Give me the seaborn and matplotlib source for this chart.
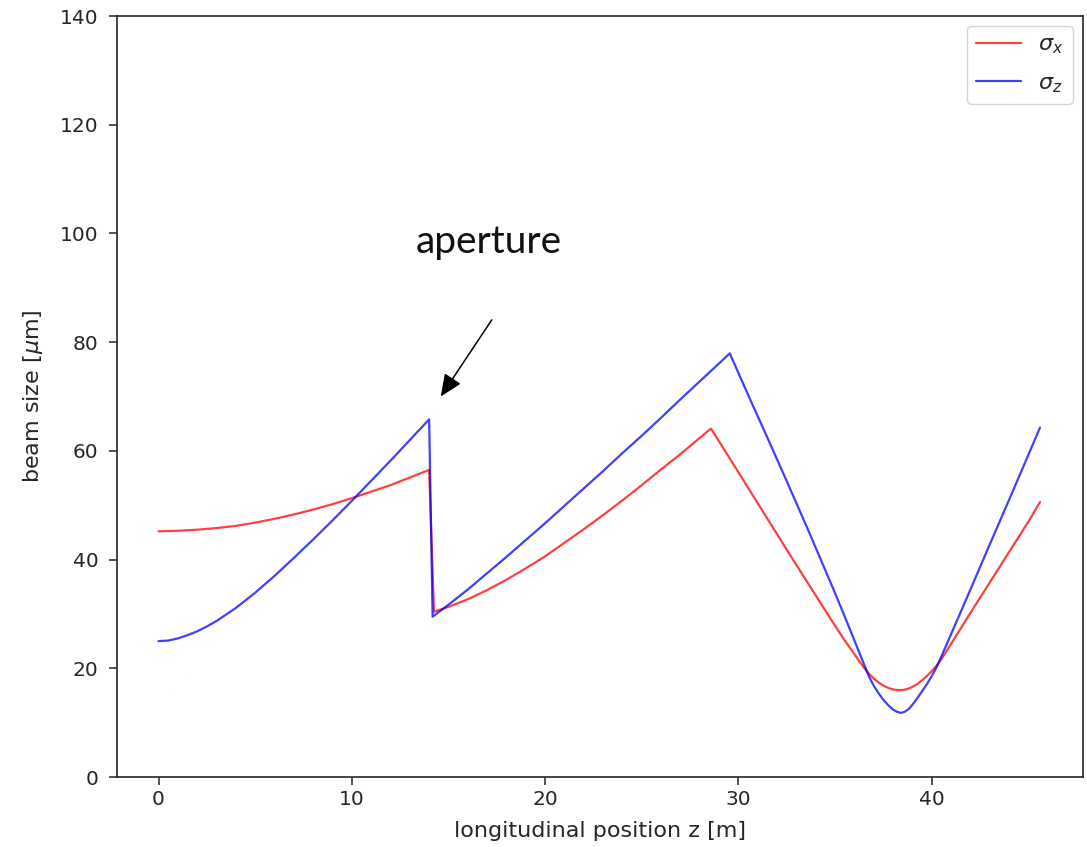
import pandas as pd
import matplotlib
matplotlib.use("Agg")
import matplotlib.pyplot as plt
import seaborn as sns

# beam envelope: z [m], size [um]
red_z = [0, 1, 2, 3, 4, 5, 6, 7, 8, 9, 10, 11, 12, 13, 14.0,
         14.25, 15, 16, 17, 18, 19, 20, 21, 22, 23, 24, 25, 26, 27, 28, 28.58,
         29.5, 30.5, 31.5, 32.5, 33.5, 34.5, 35.0, 35.5, 36.0, 36.25, 36.5, 36.75,
         37.0, 37.25, 37.5, 37.75, 38.0, 38.25, 38.5, 38.75, 39.0, 39.25, 39.5,
         39.75, 40.0, 40.25, 40.5, 41.0, 42.0, 43.0, 44.0, 45.0, 45.6]
sigma_x = [45.2, 45.3, 45.5, 45.8, 46.2, 46.8, 47.5, 48.3, 49.2, 50.2, 51.3, 52.5, 53.7, 55.1, 56.5,
           30.4, 31.3, 32.7, 34.4, 36.3, 38.4, 40.6, 43.1, 45.6, 48.2, 50.9, 53.7, 56.6, 59.4, 62.4, 64.1,
           58.9, 53.2, 47.5, 41.8, 36.2, 30.6, 27.8, 25.1, 22.6, 21.3, 20.1, 19.0,
           18.1, 17.4, 16.8, 16.4, 16.1, 16.0, 16.0, 16.2, 16.6, 17.1, 17.8,
           18.6, 19.5, 20.5, 21.7, 24.5, 30.2, 35.8, 41.4, 47.0, 50.6]

blue_z = [0, 0.5, 1, 1.5, 2, 2.5, 3, 4, 5, 6, 7, 8, 9, 10, 11, 12, 13, 14.0,
          14.18, 15, 16, 17, 18, 19, 20, 21, 22, 23, 24, 25, 26, 27, 28, 29, 29.55,
          30.5, 31.5, 32.5, 33.5, 34.5, 35.0, 35.5, 36.0, 36.5, 36.75, 37.0, 37.25,
          37.5, 37.75, 38.0, 38.2, 38.4, 38.6, 38.8, 39.0, 39.25, 39.5, 39.75,
          40.0, 40.25, 40.5, 41.0, 42.0, 43.0, 44.0, 45.0, 45.6]
sigma_z = [25.0, 25.1, 25.5, 26.1, 26.8, 27.7, 28.7, 31.1, 33.9, 37.0, 40.3, 43.7, 47.2, 50.8,
           54.5, 58.2, 62.0, 65.8,
           29.5, 31.7, 34.5, 37.5, 40.5, 43.6, 46.7, 49.9, 53.1, 56.3, 59.6, 62.8, 66.1, 69.5, 72.8, 76.1, 77.95,
           70.3, 62.4, 54.4, 46.3, 38.0, 33.8, 29.5, 25.1, 20.7, 18.5, 16.8, 15.4,
           14.2, 13.2, 12.4, 12.0, 11.8, 12.0, 12.5, 13.3, 14.5, 15.8, 17.1,
           18.6, 20.2, 22.2, 26.3, 34.5, 42.8, 51.0, 59.3, 64.3]

df_x = pd.DataFrame({"z": red_z, "size": sigma_x})
df_z = pd.DataFrame({"z": blue_z, "size": sigma_z})

sns.set_style("ticks")
plt.rcParams["font.family"] = ["DejaVu Sans"]

fig = plt.figure(figsize=(10.87, 8.47), dpi=100)
ax = fig.add_axes([0.1074, 0.0826, 0.8887, 0.8985])

sns.lineplot(data=df_x, x="z", y="size", color="red", alpha=0.75, lw=1.6,
             label=r"$\sigma_x$", ax=ax)
sns.lineplot(data=df_z, x="z", y="size", color="blue", alpha=0.75, lw=1.6,
             label=r"$\sigma_z$", ax=ax)

ax.set_xlim(-2.16, 47.81)
ax.set_ylim(0, 140)
ax.set_xticks([0, 10, 20, 30, 40])
ax.set_yticks(range(0, 141, 20))
for s in ax.spines.values():
    s.set_linewidth(1.2)
ax.tick_params(axis="both", labelsize=14.5, length=6, width=1.1)
ax.tick_params(axis="y", pad=7)

ax.set_xlabel("longitudinal position z [m]", fontsize=16)
ax.set_ylabel(r"beam size [$\mu$m]", fontsize=16)
ax.xaxis.set_label_coords(0.5, -0.058)
ax.yaxis.set_label_coords(-0.074, 0.5)

ax.legend(loc="upper right", fontsize=16, borderaxespad=0.45, labelspacing=0.75)

# annotation pointing at the aperture jump
ax.text(17.11, 96.4, "aperture", fontsize=28, family=["Lato", "DejaVu Sans"],
        ha="center", va="baseline", color="#111111")
ax.annotate("", xy=(14.6, 70.0), xytext=(17.24, 84.1),
            arrowprops=dict(arrowstyle="-|>,head_length=0.8,head_width=0.35",
                            mutation_scale=17, color="black", lw=1.1,
                            shrinkA=0, shrinkB=0))

fig.savefig("out.png", dpi=100)
plt.close(fig)
